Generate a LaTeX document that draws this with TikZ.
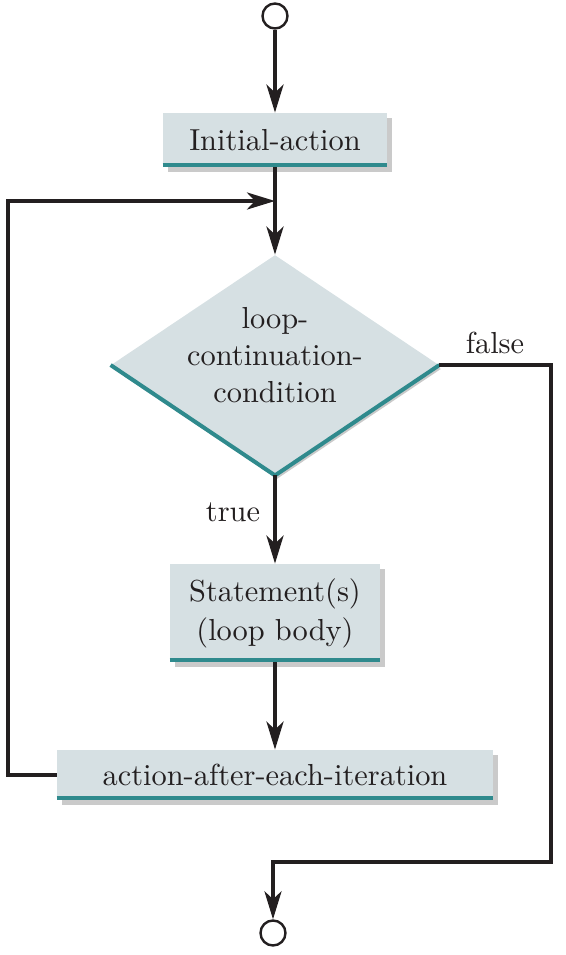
\documentclass[tikz,border=0pt]{standalone}
\usepackage{fontspec}
\setmainfont{lmroman10-regular}[Extension=.otf]
\usetikzlibrary{arrows.meta,shapes.geometric,shadows}
\definecolor{boxfill}{HTML}{D6E0E3}
\definecolor{tealc}{HTML}{2F8A8D}
\definecolor{shadowc}{HTML}{CACACA}
\definecolor{ink}{HTML}{231F20}
\begin{document}
\begin{tikzpicture}[x=0.5pt,y=-0.5pt,
  every node/.style={font=\rmfamily\fontsize{15.2}{19.5}\selectfont, text=ink},
  procbox/.style={fill=boxfill, inner sep=0pt,
    general shadow={fill=shadowc, shadow xshift=2.5pt, shadow yshift=-2.5pt}},
  decision/.style={diamond, fill=boxfill, inner sep=0pt, minimum width=164pt, minimum height=110pt,
    general shadow={fill=shadowc, shadow xshift=1pt, shadow yshift=-2pt}},
  term/.style={circle, draw=ink, line width=1.2pt, fill=white, minimum size=12.5pt, inner sep=0pt},
  flow/.style={draw=ink, line width=2pt, -{Stealth[length=14pt,width=8.5pt,inset=4pt]}},
  tealedge/.style={draw=tealc, line width=2pt},
  lbl/.style={inner sep=0pt}]
\useasboundingbox (0,0) rectangle (566,955);

\node[term] (start) at (275,16) {};
\node[procbox, minimum width=112pt, minimum height=27pt] (init) at (275,140) {Initial-action};
\node[decision] (cond) at (275,365) {};
\node[lbl, align=center, font=\rmfamily\fontsize{15.2}{18.5}\selectfont] (condtext) at (275,355) {loop-\\continuation-\\condition};
\node[procbox, minimum width=105pt, minimum height=49pt, align=center] (body) at (275,613) {Statement(s)\\(loop body)};
\node[procbox, minimum width=218pt, minimum height=25pt] (after) at (275,775) {action-after-each-iteration};
\node[term] (stop) at (273,933) {};
\node[lbl] (truelbl) at (233,512) {true};
\node[lbl] (falselbl) at (495,343) {false};

\draw[tealedge] ([yshift=1pt]init.south west) -- ([yshift=1pt]init.south east);
\draw[tealedge] ([yshift=1pt]body.south west) -- ([yshift=1pt]body.south east);
\draw[tealedge] ([yshift=1pt]after.south west) -- ([yshift=1pt]after.south east);
\draw[tealedge] (cond.west) -- (cond.south) -- (cond.east);

\coordinate (j) at (275,201);
\coordinate (leftx) at (8,500);
\coordinate (rightx) at (551,500);
\coordinate (bottomy) at (400,862);

\draw[flow] (start.south) -- (init.north);
\draw[flow] (init.south) -- (cond.north);
\draw[flow] (cond.south) -- (body.north);
\draw[flow] (body.south) -- (after.north);
\draw[flow] (after.west) -| (leftx) |- (j);
\draw[flow] (cond.east) -| (rightx) |- (bottomy) -| (stop.north);
\end{tikzpicture}
\end{document}
